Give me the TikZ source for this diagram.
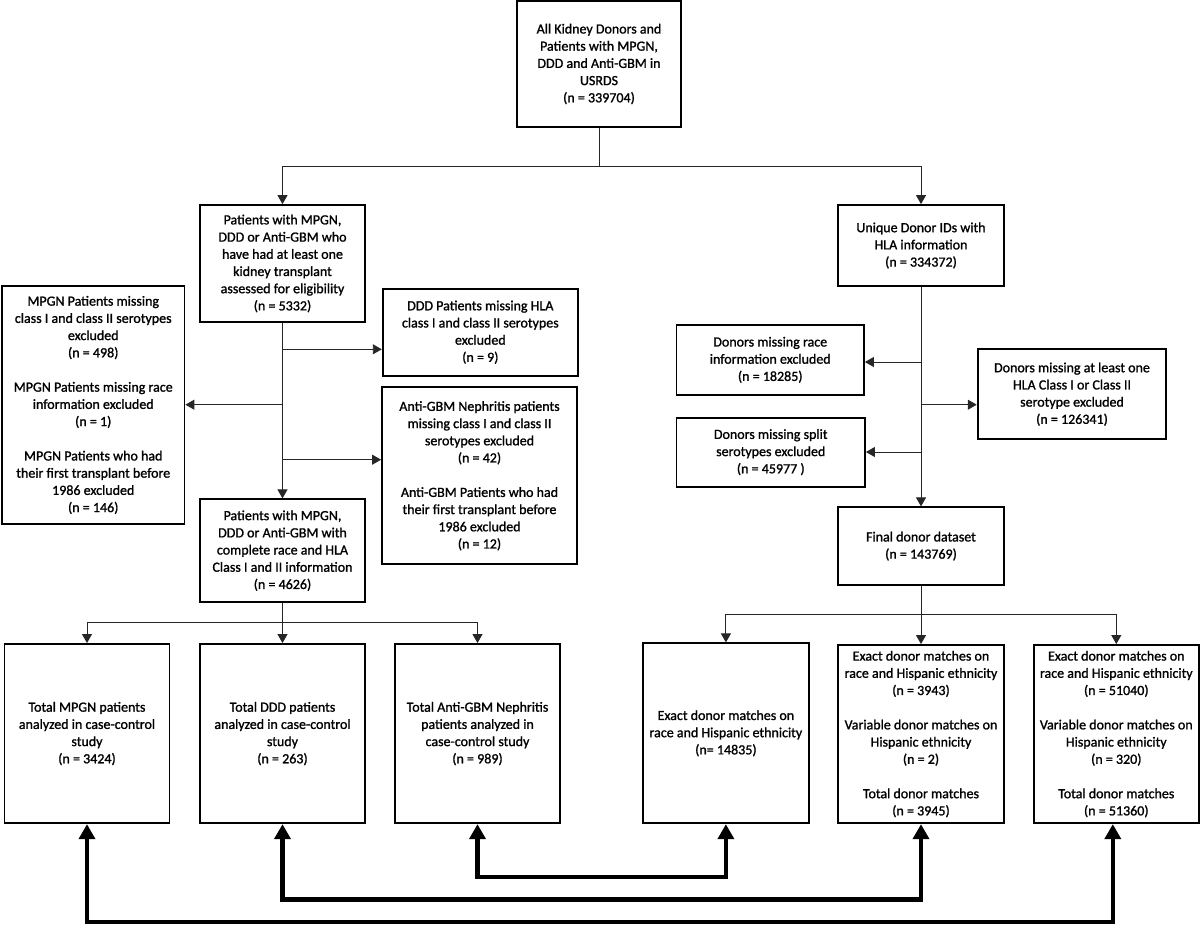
\documentclass[tikz,border=0pt]{standalone}
\usepackage{fontspec}
\setmainfont{Carlito}
\newfontfamily\boxfont{Carlito}[RawFeature={embolden=1.2}]
\usetikzlibrary{arrows.meta}
\tikzset{
  box/.style={draw, line width=1.8pt, align=center, inner sep=0pt,
    font=\boxfont\fontsize{14}{17.2}\selectfont},
  conn/.style={draw=black!85, line width=0.9pt, -{Triangle[length=9pt,width=10pt]}},
  plain/.style={draw=black!85, line width=0.9pt},
  bigarrow/.style={line width=4.3pt, {Triangle[length=15pt,width=16pt]}-{Triangle[length=15pt,width=16pt]}}
}
\begin{document}
\begin{tikzpicture}[x=1pt,y=-1pt]
\useasboundingbox[fill=white] (0,0) rectangle (1200,926);

% top
\node[box, minimum width=164pt, minimum height=126pt] (top) at (599,64)
  {All Kidney Donors and\\Patients with MPGN,\\DDD and Anti-GBM in\\USRDS\\(n = 339704)};

% left column
\node[box, minimum width=165pt, minimum height=117pt] (A) at (282.5,263.5)
  {Patients with MPGN,\\DDD or Anti-GBM who\\have had at least one\\kidney transplant\\assessed for eligibility\\(n = 5332)};
\node[box, minimum width=182.5pt, minimum height=238pt] (L) at (93.25,405)
  {MPGN Patients missing\\class I and class II serotypes\\excluded\\(n = 498)\\[17.2pt]MPGN Patients missing race\\information excluded\\(n = 1)\\[17.2pt]MPGN Patients who had\\their first transplant before\\1986 excluded\\(n = 146)};
\node[box, minimum width=195.3pt, minimum height=87pt] (D) at (480.35,332.2)
  {DDD Patients missing HLA\\class I and class II serotypes\\excluded\\(n = 9)};
\node[box, minimum width=195pt, minimum height=177pt] (G) at (479.5,475.8)
  {Anti-GBM Nephritis patients\\missing class I and class II\\serotypes excluded\\(n = 42)\\[17.2pt]Anti-GBM Patients who had\\their first transplant before\\1986 excluded\\(n = 12)};
\node[box, minimum width=165pt, minimum height=102.7pt] (C) at (282.5,550.65)
  {Patients with MPGN,\\DDD or Anti-GBM with\\complete race and HLA\\Class I and II information\\(n = 4626)};

% right column
\node[box, minimum width=166pt, minimum height=81pt] (U) at (921,245.5)
  {Unique Donor IDs with\\HLA information\\(n = 334372)};
\node[box, minimum width=187.5pt, minimum height=69.7pt] (R) at (770.25,359.85)
  {Donors missing race\\information excluded\\(n = 18285)};
\node[box, minimum width=188.5pt, minimum height=69pt] (S) at (770.75,452.2)
  {Donors missing split\\serotypes excluded\\(n = 45977 )};
\node[box, minimum width=188.7pt, minimum height=90.3pt] (H) at (1072,394.15)
  {Donors missing at least one\\HLA Class I or Class II\\serotype excluded\\(n = 126341)};
\node[box, minimum width=166pt, minimum height=77.7pt] (F) at (921,546.15)
  {Final donor dataset\\(n = 143769)};

% bottom row
\node[box, minimum width=165pt, minimum height=179.3pt] (B1) at (87,733.6)
  {Total MPGN patients\\analyzed in case-control\\study\\(n = 3424)};
\node[box, minimum width=165pt, minimum height=179.3pt] (B2) at (282.5,733.6)
  {Total DDD patients\\analyzed in case-control\\study\\(n = 263)};
\node[box, minimum width=165pt, minimum height=179.3pt] (B3) at (477.5,733.6)
  {Total Anti-GBM Nephritis\\patients analyzed in\\case-control study\\(n = 989)};
\node[box, minimum width=165.4pt, minimum height=180pt] (B4) at (725.9,733.3)
  {Exact donor matches on\\race and Hispanic ethnicity\\(n= 14835)};
\node[box, minimum width=166pt, minimum height=178.3pt] (B5) at (921,734.1)
  {Exact donor matches on\\race and Hispanic ethnicity\\(n = 3943)\\[17.2pt]Variable donor matches on\\Hispanic ethnicity\\(n = 2)\\[17.2pt]Total donor matches\\(n = 3945)};
\node[box, minimum width=165.4pt, minimum height=178.3pt] (B6) at (1116.3,734.1)
  {Exact donor matches on\\race and Hispanic ethnicity\\(n = 51040)\\[17.2pt]Variable donor matches on\\Hispanic ethnicity\\(n = 320)\\[17.2pt]Total donor matches\\(n = 51360)};

% top split
\coordinate (tj) at (599,166);
\draw[plain] (top.south) -- (tj);
\draw[conn] (tj) -| (A.north);
\draw[conn] (tj) -| (U.north);

% left trunk
\draw[conn] (A.south) -- (C.north);
\coordinate (jD) at (282.5,349.3);
\coordinate (jL) at (282.5,404.7);
\coordinate (jG) at (282.5,459.7);
\draw[conn] (jD) -- (jD -| D.west);
\draw[conn] (jL) -- (jL -| L.east);
\draw[conn] (jG) -- (jG -| G.west);

% right trunk
\draw[conn] (U.south) -- (F.north);
\coordinate (jR) at (921,362);
\coordinate (jH) at (921,404.7);
\coordinate (jS) at (921,452);
\draw[conn] (jR) -- (jR -| R.east);
\draw[conn] (jH) -- (jH -| H.west);
\draw[conn] (jS) -- (jS -| S.east);

% bottom splits
\coordinate (lb) at (282.5,622.7);
\draw[plain] (C.south) -- (lb);
\draw[conn] (lb) -| (B1.north);
\draw[conn] (lb) -- (B2.north);
\draw[conn] (lb) -| (B3.north);
\coordinate (rb) at (921,614.7);
\draw[plain] (F.south) -- (rb);
\draw[conn] (rb) -| (B4.north);
\draw[conn] (rb) -- (B5.north);
\draw[conn] (rb) -| (B6.north);

% thick double arrows
\draw[bigarrow] (B3.south) |- (600,877) -| (B4.south);
\draw[bigarrow] (B2.south) |- (600,899.5) -| (B5.south);
\draw[bigarrow] (B1.south) |- (600,922) -| ([xshift=-3.5pt]B6.south);
\end{tikzpicture}
\end{document}
